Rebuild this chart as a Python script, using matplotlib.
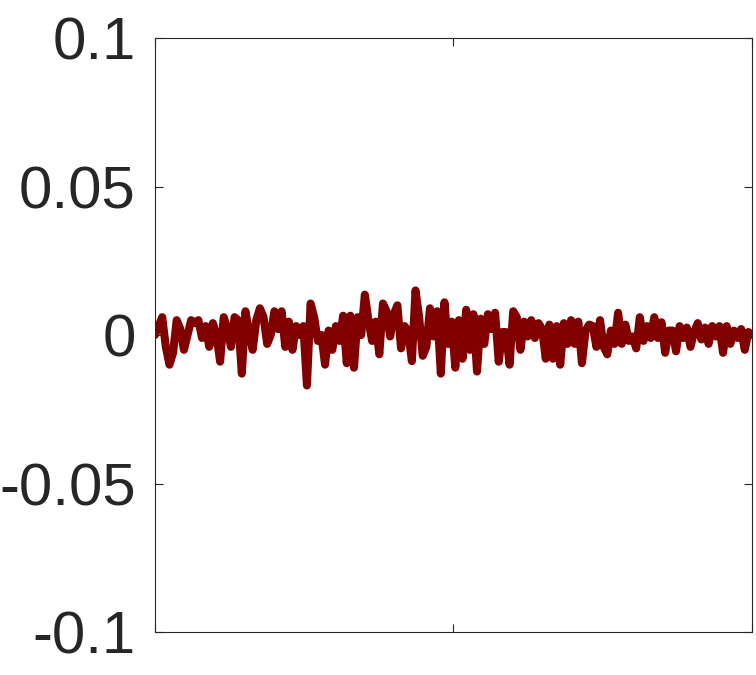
import numpy as np
import matplotlib
matplotlib.use("Agg")
import matplotlib.pyplot as plt

# signal values (units of 1e-3), left to right
seg_a = [0, 3, 6, -4, -10, -6, 5, 2, -5, 0, 5, 4, 5, -1, 3, -4, 4, 0, -9, 6,
         2, -4, 6, 5, -13, 8, 1, -5, 5, 9, 6, -3, 0, 8, 2]
seg_b = [8, -4, 4.5, -5, 3, 0, 3, -17, 10.6, 6, -2, 0, -10, 1.5, -5, 3, -2, 6.5,
         -9.5, 6.5, -11, 6, 0, 13.6, 5, -2, 4.5, -6.5, 10.6, 8, -0.5, 7]
seg_c = [10, -4.5, 3, 1, -8.8, 15, 6, -7, -4, 9, -0.5, 8, -13, 11, -3, 4.5, -11,
         5, -8, 8.5, -5, 7, -12.3, 5.5, -3, 7, 2]
seg_d = [7.5, -9, 1, 1, -10, 8, 6, -5, 4.5, -0.5, 5, -1, 4, 2, -8, 3.5, -8, 3,
         -10, 4, -3, 5, -3, 4.5, -9.5, 1.5, 3.5]
seg_e = [3, -4, 5, -4, -6.5, 1.5, -3, 7.5, -3, 3.5, -2, -0.5, -4.5, 6, -2, 3,
         -1, 6, -1, 4.3, -6, 1.5]
seg_f = [1.5, -5.5, 3, -1, 2.5, -4, 1, 4, -1.5, 2.5, -3, 3, -0.5, 3, -6, 3,
         -3, 1.5, -1, 2, -5, 1, 0]

y_vals = np.array(seg_a + seg_b + seg_c + seg_d + seg_e + seg_f) * 1e-3
x_vals = np.linspace(0, 1, len(y_vals))

y_ticks = [-0.1, -0.05, 0, 0.05, 0.1]
y_labels = ["-0.1", "-0.05", "0", "0.05", "0.1"]

plt.rcParams["font.family"] = ["Liberation Sans", "DejaVu Sans"]

fig = plt.figure(figsize=(7.56, 6.75), dpi=100)
ax = fig.add_axes([0.205, 0.0637, 0.7897, 0.88])

ax.plot(x_vals, y_vals, color="#800000", lw=5.8, solid_joinstyle="round",
        solid_capstyle="round")

ax.set_xlim(0, 1)
ax.set_ylim(-0.1, 0.1)
ax.set_xticks([0, 0.5, 1])
ax.set_xticklabels([])
ax.set_yticks(y_ticks)
ax.set_yticklabels(y_labels)

ax.tick_params(direction="in", length=6, width=0.8, color="#262626",
               labelsize=43, labelcolor="#262626", top=True, right=True, pad=14)
for s in ax.spines.values():
    s.set_color("#262626")
    s.set_linewidth(0.8)

fig.savefig("out.png", dpi=100)
